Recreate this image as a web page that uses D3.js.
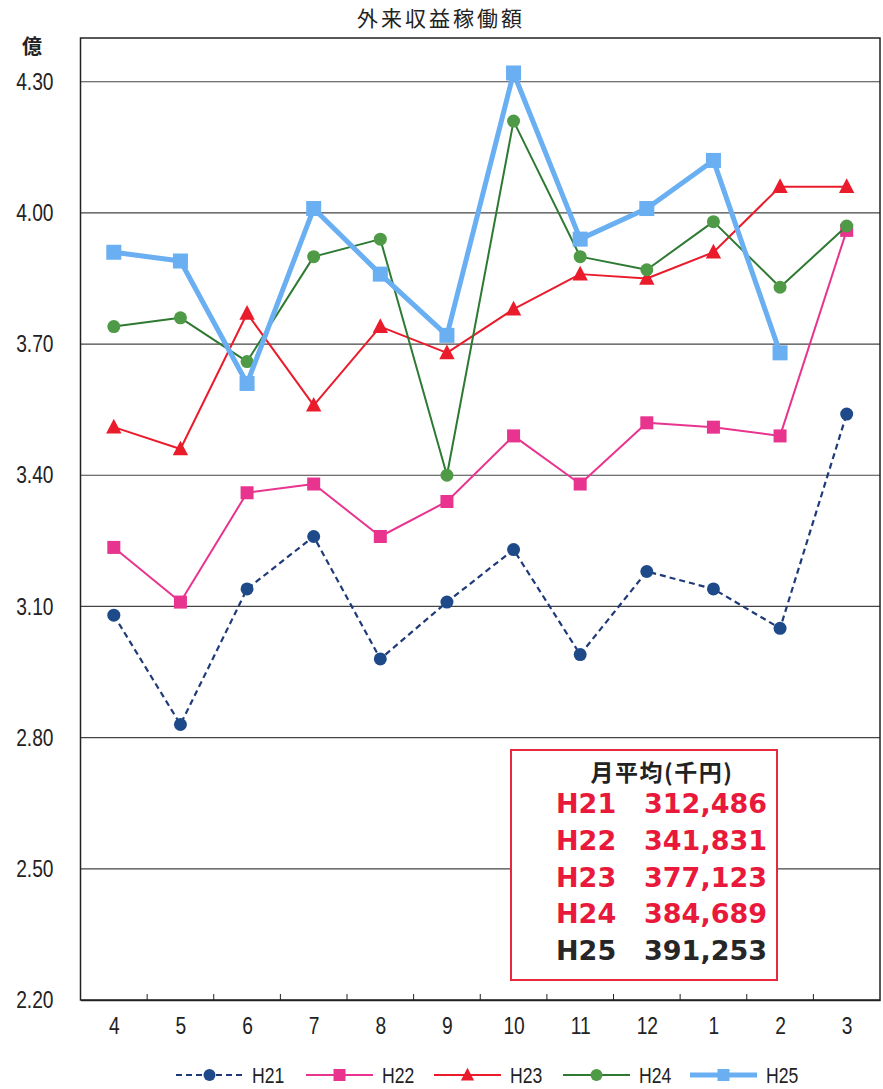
<!DOCTYPE html>
<html><head><meta charset="utf-8">
<script src="https://cdn.jsdelivr.net/npm/d3@7"></script>
<style>
body{margin:0;background:#fff;}
svg{display:block;}
</style></head>
<body>
<svg id="chart" width="883" height="1089"></svg>
<script>
const months = ["4","5","6","7","8","9","10","11","12","1","2","3"];
const yTicks = [2.20, 2.50, 2.80, 3.10, 3.40, 3.70, 4.00, 4.30];
const seriesNames = ["H21","H22","H23","H24","H25"];
const h21 = [3.08, 2.83, 3.14, 3.26, 2.98, 3.11, 3.23, 2.99, 3.18, 3.14, 3.05, 3.54];
const h22 = [3.235, 3.11, 3.36, 3.38, 3.26, 3.34, 3.49, 3.38, 3.52, 3.51, 3.49, 3.96];
const h23 = [3.51, 3.46, 3.77, 3.56, 3.74, 3.68, 3.78, 3.86, 3.85, 3.91, 4.06, 4.06];
const h24 = [3.74, 3.76, 3.66, 3.90, 3.94, 3.40, 4.21, 3.90, 3.87, 3.98, 3.83, 3.97];
const h25 = [3.91, 3.89, 3.61, 4.01, 3.86, 3.72, 4.32, 3.94, 4.01, 4.12, 3.68, null];
const avgLabels = ["H21","H22","H23","H24","H25"];
const avgValues = ["312,486","341,831","377,123","384,689","391,253"];
const title = "外来収益稼働額";
const unit = "億";
const boxTitle = "月平均(千円)";

const styles = [
  {line:"#1f3a78", marker:"#1f4a8a", width:2.2, dash:"6,4", shape:"circle"},
  {line:"#e8348f", marker:"#e8348f", width:2, dash:null, shape:"square"},
  {line:"#ea1c2c", marker:"#ea1c2c", width:2, dash:null, shape:"triangle"},
  {line:"#2e7a32", marker:"#4f9a46", width:2, dash:null, shape:"circle"},
  {line:"#69aff2", marker:"#69aff2", width:5, dash:null, shape:"square"}
];
const data = [h21,h22,h23,h24,h25];

const svg = d3.select("#chart");
const L = 80.5, R = 880, T = 38, B = 1000;
const x = d3.scalePoint().domain(months).range([L, R]).padding(0.5);
const y = d3.scaleLinear().domain([2.2, 4.4]).range([B, T]);

const FONT = "'Liberation Sans',Arial,sans-serif";
const SX = 0.8;
function squeeze(sel){
  sel.each(function(){
    const t = d3.select(this);
    const x0 = +t.attr("x") || 0;
    t.attr("transform", `translate(${x0},0) scale(${SX},1) translate(${-x0},0)`);
  });
}

// title
svg.append("text").attr("x", 441).attr("y", 26).attr("text-anchor","middle")
  .attr("font-family","'Noto Sans CJK JP',sans-serif").attr("font-size",21)
  .attr("letter-spacing",3).attr("fill","#222").text(title);
svg.append("text").attr("x", 32).attr("y", 54).attr("text-anchor","middle")
  .attr("font-family","'Noto Sans CJK JP',sans-serif").attr("font-weight","bold").attr("font-size",20)
  .attr("fill","#222").text(unit);

// grid
svg.append("g").selectAll("line").data(yTicks.filter(d=>d>2.2)).join("line")
  .attr("x1", L).attr("x2", R).attr("y1", d=>y(d)).attr("y2", d=>y(d))
  .attr("stroke","#444").attr("stroke-width",1.2);

// frame
svg.append("rect").attr("x", L).attr("y", T).attr("width", R-L).attr("height", B-T)
  .attr("fill","none").attr("stroke","#222").attr("stroke-width",1.5);

// y axis
const yAxis = d3.axisLeft(y).tickValues(yTicks).tickFormat(d3.format(".2f")).tickSize(0).tickPadding(27);
const gy = svg.append("g").attr("transform",`translate(${L},0)`).call(yAxis);
gy.select(".domain").remove();
gy.selectAll("text").attr("font-family",FONT).attr("font-size",24).attr("fill","#222").call(squeeze);

// x axis
const xAxis = d3.axisBottom(x).tickSize(0).tickPadding(17);
const gx = svg.append("g").attr("transform",`translate(0,${B})`).call(xAxis);
gx.select(".domain").attr("stroke","#222").attr("stroke-width",1.5);
gx.selectAll("text").attr("font-family",FONT).attr("font-size",24).attr("fill","#222");
gx.selectAll(".tick text").attr("transform",`scale(${SX},1)`);
// category boundary ticks
const step = x.step();
svg.append("g").selectAll("line").data(months.slice(1)).join("line")
  .attr("x1", d=>x(d)-step/2).attr("x2", d=>x(d)-step/2)
  .attr("y1", B).attr("y2", B-6).attr("stroke","#222").attr("stroke-width",1);

function drawMarker(g, shape, cx, cy, color, size){
  if(shape==="circle"){
    g.append("circle").attr("cx",cx).attr("cy",cy).attr("r",size/2).attr("fill",color);
  } else if(shape==="square"){
    g.append("rect").attr("x",cx-size/2).attr("y",cy-size/2).attr("width",size).attr("height",size).attr("fill",color);
  } else {
    const h = size;
    g.append("path").attr("d",`M${cx},${cy-h*0.6}L${cx+h*0.55},${cy+h*0.45}L${cx-h*0.55},${cy+h*0.45}Z`).attr("fill",color);
  }
}

const sizes = [13,13,14,13,15];
data.forEach((vals,i)=>{
  const st = styles[i];
  const pts = months.map((m,j)=>({m, v: vals[j]}));
  const line = d3.line().defined(d=>d.v!==null).x(d=>x(d.m)).y(d=>y(d.v));
  const g = svg.append("g");
  g.append("path").datum(pts).attr("d",line).attr("fill","none")
    .attr("stroke",st.line).attr("stroke-width",st.width)
    .attr("stroke-dasharray",st.dash).attr("stroke-linejoin","round");
  pts.filter(d=>d.v!==null).forEach(d=>drawMarker(g, st.shape, x(d.m), y(d.v), st.marker, sizes[i]));
});

// average box
const bx = 511, by = 750, bw = 266, bh = 230;
svg.append("rect").attr("x",bx).attr("y",by).attr("width",bw).attr("height",bh)
  .attr("fill","#fff").attr("stroke","#e8283c").attr("stroke-width",2);
svg.append("text").attr("x", 662).attr("y", 781).attr("text-anchor","middle")
  .attr("font-family","'Noto Sans CJK JP',sans-serif").attr("font-weight","bold").attr("font-size",23)
  .attr("letter-spacing",1.5).attr("fill","#222").text(boxTitle);
avgLabels.forEach((lab,i)=>{
  const col = i<4 ? "#e8193a" : "#262626";
  const yy = 813 + i*36.8;
  svg.append("text").attr("x",556).attr("y",yy).attr("font-family","'DejaVu Sans',sans-serif")
    .attr("font-weight","bold").attr("font-size",27).attr("fill",col).text(lab);
  svg.append("text").attr("x",767).attr("y",yy).attr("text-anchor","end").attr("font-family","'DejaVu Sans',sans-serif")
    .attr("font-weight","bold").attr("font-size",27).attr("fill",col).text(avgValues[i]);
});

// legend
const legX = [176, 306, 434, 563, 690];
const ly = 1075;
seriesNames.forEach((n,i)=>{
  const st = styles[i];
  const g = svg.append("g");
  g.append("line").attr("x1",legX[i]).attr("x2",legX[i]+67).attr("y1",ly).attr("y2",ly)
    .attr("stroke",st.line).attr("stroke-width",st.width===5?5:2.2).attr("stroke-dasharray",st.dash);
  drawMarker(g, st.shape, legX[i]+33.5, ly, st.marker, 12);
  g.append("text").attr("x",legX[i]+76).attr("y",ly+8).attr("font-family",FONT)
    .attr("font-size",22).attr("fill","#222").text(n).call(squeeze);
});
</script>
</body></html>
